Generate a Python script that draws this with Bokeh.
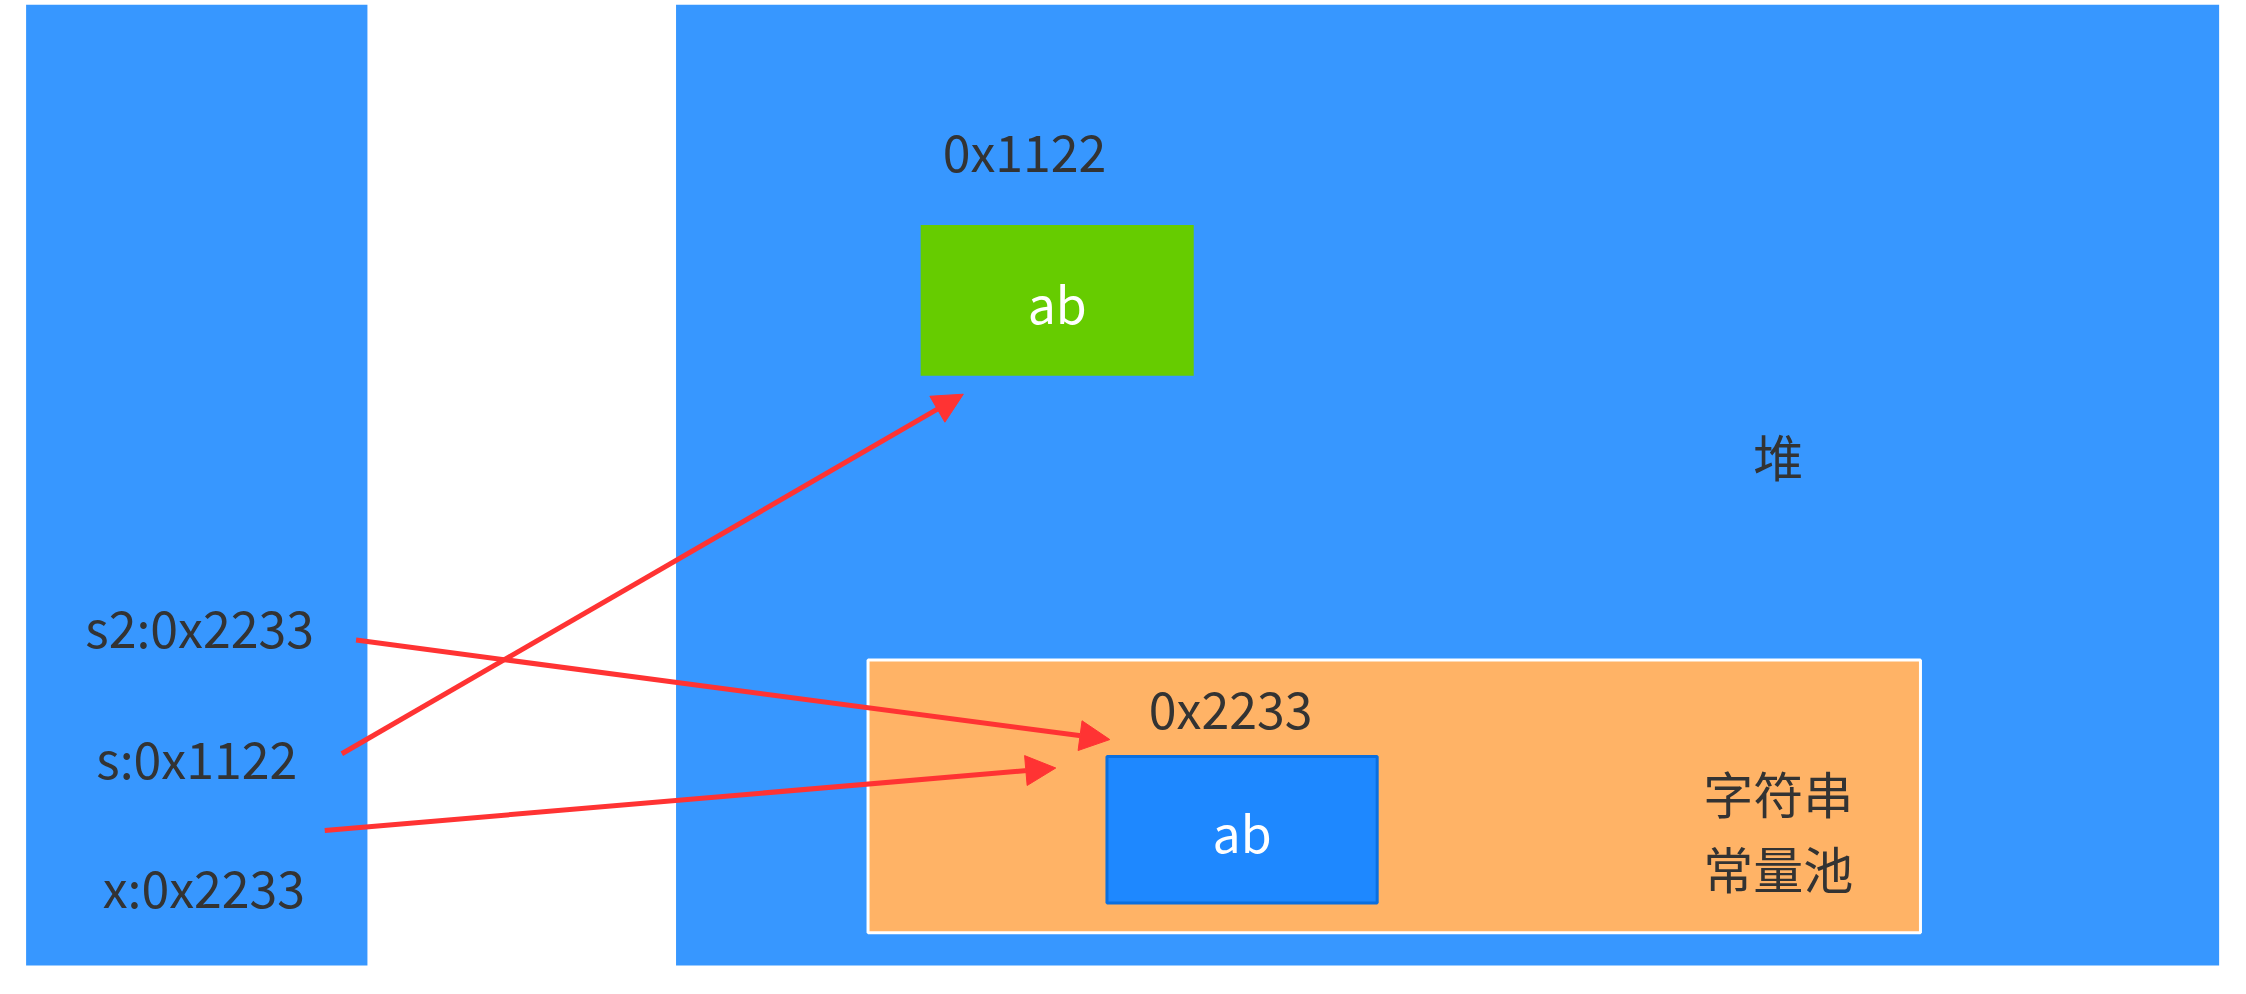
from bokeh.plotting import figure
from bokeh.models import Range1d, Arrow, NormalHead
from bokeh.core.properties import value
from bokeh.embed import file_html
from bokeh.resources import INLINE

W, H = 1568, 686
FONT = "Noto Sans CJK SC"

# regions: left, right, top, bottom, fill, line
box_left = [18, 475, 610, 647, 778]
box_right = [258, 1560, 1350, 839, 968]
box_top = [3, 3, 464, 158, 532]
box_bottom = [679, 679, 656, 264, 635]
box_fill = ["#3797FF", "#3797FF", "#FFB366", "#66CC00", "#1E88FF"]
box_line = [None, None, "white", None, "#0A6FE0"]
box_line_w = [0, 0, 3, 0, 3]

# labels
lab_x = [140, 138, 143, 720, 865, 1250, 1250, 1250, 743, 873]
lab_y = [440, 532, 623, 105, 497, 320, 557, 610, 212, 584]
lab_text = ["s2:0x2233", "s:0x1122", "x:0x2233", "0x1122", "0x2233",
            "堆", "字符串", "常量池", "ab", "ab"]
lab_color = ["#333333"] * 8 + ["white", "white"]

# arrows
arr_x0 = [250, 240, 228]
arr_y0 = [450, 530, 584]
arr_x1 = [780, 677, 742]
arr_y1 = [520, 277, 540]

s = 2230 / W
p = figure(width=2230, height=int(H * s), x_range=Range1d(0, W), y_range=Range1d(H, 0),
           output_backend="svg", toolbar_location=None, min_border=0)
p.axis.visible = False
p.grid.visible = False
p.outline_line_color = None
p.background_fill_color = "white"

for i in range(len(box_left)):
    p.quad(left=box_left[i], right=box_right[i], top=box_top[i], bottom=box_bottom[i],
           fill_color=box_fill[i], line_color=box_line[i], line_width=box_line_w[i])

p.text(x=lab_x, y=lab_y, text=lab_text, text_color=lab_color,
       text_font=value(FONT), text_font_size="50px",
       text_align="center", text_baseline="middle")

for x0, y0, x1, y1 in zip(arr_x0, arr_y0, arr_x1, arr_y1):
    p.add_layout(Arrow(x_start=x0, y_start=y0, x_end=x1, y_end=y1,
                       line_color="#FF3333", line_width=5,
                       end=NormalHead(size=30, fill_color="#FF3333", line_color="#FF3333")))

open("out.html", "w").write(file_html(p, INLINE))
